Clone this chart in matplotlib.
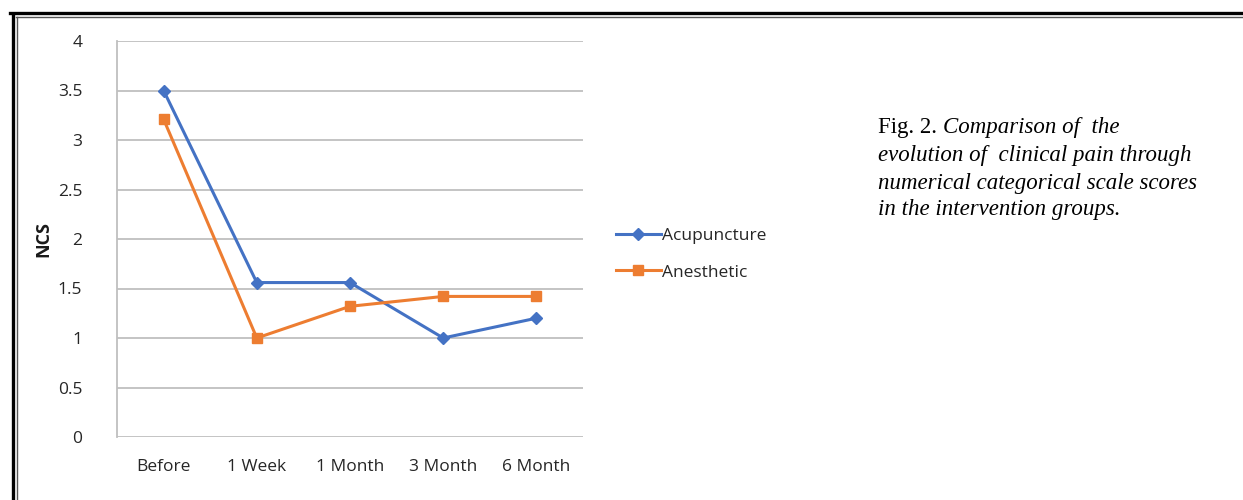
import matplotlib
matplotlib.use("Agg")
import matplotlib.pyplot as plt
from matplotlib.lines import Line2D

categories = ["Before", "1 Week", "1 Month", "3 Month", "6 Month"]
acupuncture = [3.5, 1.56, 1.56, 1.0, 1.2]
anesthetic = [3.21, 1.0, 1.32, 1.42, 1.42]
yticks = [0, 0.5, 1, 1.5, 2, 2.5, 3, 3.5, 4]
ytick_labels = ["0", "0.5", "1", "1.5", "2", "2.5", "3", "3.5", "4"]

W, H = 1243, 500
fig = plt.figure(figsize=(W / 100, H / 100), dpi=100)
fig.patch.set_facecolor("white")

ax = fig.add_axes([117 / W, 1 - 437 / H, (583 - 117) / W, (437 - 41) / H])
x = list(range(len(categories)))
blue = "#4472C4"
orange = "#ED7D31"
ax.plot(x, acupuncture, color=blue, lw=2.2, marker="D", ms=6, label="Acupuncture", zorder=3)
ax.plot(x, anesthetic, color=orange, lw=2.2, marker="s", ms=7, label="Anesthetic", zorder=3)

ax.set_xlim(-0.5, 4.5)
ax.set_ylim(0, 4)
ax.set_yticks(yticks)
ax.set_yticklabels(ytick_labels)
ax.set_xticks(x)
ax.set_xticklabels(categories)
ax.tick_params(axis="both", length=0, labelsize=12.5, colors="#262626")
ax.tick_params(axis="y", pad=25)
ax.tick_params(axis="x", pad=16)
for lab in ax.get_xticklabels() + ax.get_yticklabels():
    lab.set_fontfamily("Open Sans")
ax.grid(axis="y", color="#BFBFBF", lw=1.3)
ax.set_axisbelow(True)
for s in ["top", "right", "bottom"]:
    ax.spines[s].set_visible(False)
ax.spines["left"].set_color("#BFBFBF")
ax.spines["left"].set_linewidth(1.3)
ax.set_ylabel("NCS", fontsize=13, fontweight="bold", fontfamily="Open Sans", labelpad=4, color="#1a1a1a")

leg = ax.legend(loc="center left", bbox_to_anchor=(600 / W, 1 - 254 / H), bbox_transform=fig.transFigure,
                frameon=False, handlelength=2.6, handletextpad=0.1, labelspacing=1.2,
                prop={"family": "Open Sans", "size": 12.5})
for t in leg.get_texts():
    t.set_color("#262626")

# caption
fs = 16.5
renderer = fig.canvas.get_renderer()
t0 = fig.text(878 / W, 1 - 127 / H, "Fig. 2. ", fontsize=fs, family="Liberation Serif", va="center", ha="left")
bb = t0.get_window_extent(renderer=renderer)
first_x = bb.x1 / W
cap_lines = [
    (first_x, 127, "Comparison of  the"),
    (878 / W, 155, "evolution of  clinical pain through"),
    (878 / W, 183, "numerical categorical scale scores"),
    (878 / W, 210, "in the intervention groups."),
]
for cx, cy, txt in cap_lines:
    fig.text(cx, 1 - cy / H, txt, fontsize=fs, family="Liberation Serif", style="italic",
             va="center", ha="left")

# border lines
fig.add_artist(Line2D([10 / W, 1], [1 - 13 / H, 1 - 13 / H], color="black", lw=2.4))
fig.add_artist(Line2D([15.5 / W, 1], [1 - 16.5 / H, 1 - 16.5 / H], color="#555555", lw=1.0))
fig.add_artist(Line2D([12.5 / W, 12.5 / W], [0, 1 - 14 / H], color="black", lw=2.4))
fig.add_artist(Line2D([16.5 / W, 16.5 / W], [0, 1 - 17 / H], color="#555555", lw=1.0))

fig.savefig("out.png", dpi=100)
